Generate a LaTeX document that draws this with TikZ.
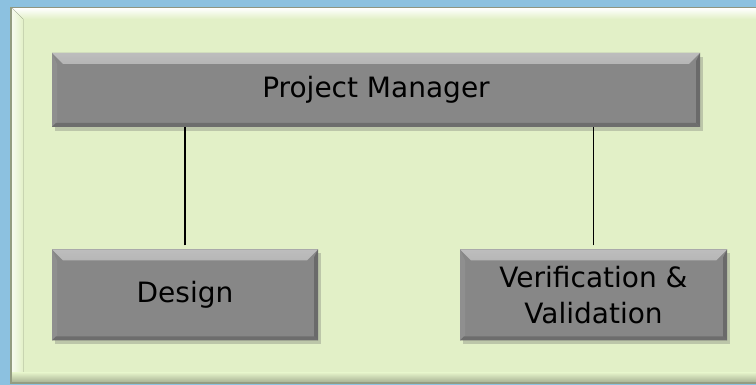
\documentclass[tikz,border=0pt]{standalone}
\usepackage{fontspec}
\setmainfont{DejaVu Sans}
\usetikzlibrary{shadows}

\definecolor{skyblue}{HTML}{8CC1E0}
\definecolor{panelgreen}{HTML}{E2F0C7}
\definecolor{boxgray}{HTML}{878787}
\definecolor{bevellight}{HTML}{BDBDBD}
\definecolor{beveldark}{HTML}{6A6A6A}

\tikzset{
  tier/.style={fill=boxgray, inner sep=0pt, align=center,
    minimum height=#1, font=\fontsize{28}{36}\selectfont,
    drop shadow={shadow xshift=3pt, shadow yshift=-4pt, opacity=0.3, fill=black!60},
    path picture={
      % top bevel
      \fill[top color=bevellight, bottom color=boxgray]
        (path picture bounding box.north west) -- (path picture bounding box.north east)
        -- ([xshift=-11pt,yshift=-11pt]path picture bounding box.north east)
        -- ([xshift=11pt,yshift=-11pt]path picture bounding box.north west) -- cycle;
      % left bevel
      \fill[boxgray!93!white]
        (path picture bounding box.north west)
        -- ([xshift=5pt,yshift=-11pt]path picture bounding box.north west)
        -- ([xshift=5pt,yshift=4pt]path picture bounding box.south west)
        -- (path picture bounding box.south west) -- cycle;
      % right and bottom edges
      \fill[beveldark]
        ([xshift=-4pt,yshift=-8pt]path picture bounding box.north east) -- (path picture bounding box.north east)
        -- (path picture bounding box.south east) -- ([xshift=-4pt,yshift=4pt]path picture bounding box.south east) -- cycle;
      \fill[beveldark!90!boxgray]
        (path picture bounding box.south west) -- (path picture bounding box.south east)
        -- ([xshift=-4pt,yshift=4pt]path picture bounding box.south east)
        -- ([xshift=4pt,yshift=4pt]path picture bounding box.south west) -- cycle;
    }},
  link/.style={line width=1.6pt, black}
}

\begin{document}
\begin{tikzpicture}[x=1pt, y=1pt]
  \useasboundingbox (0,0) rectangle (756,385);

  % backdrop and panel
  \fill[skyblue] (0,0) rectangle (756,385);
  \fill[black!35!panelgreen] (10,1) rectangle (760,378);
  \fill[panelgreen] (12,3) rectangle (760,377);
  \fill[top color=white, bottom color=panelgreen] (12,377) -- (760,377) -- (760,366) -- (23,366) -- cycle;
  \fill[left color=white!70!panelgreen, right color=panelgreen] (12,377) -- (23,366) -- (23,12) -- (12,3) -- cycle;
  \fill[top color=panelgreen, bottom color=black!25!panelgreen] (12,12) -- (760,12) -- (760,3) -- (12,3) -- cycle;

  % boxes
  \node[tier=74pt, minimum width=648pt] (pm) at (376,295) {Project Manager};
  \node[tier=91pt, minimum width=266pt] (design) at (185,90) {Design};
  \node[tier=91pt, minimum width=267pt] (vv) at (593.5,90) {Verification \&\\Validation};

  % links
  \draw[link] (design.north) ++(0,4) coordinate (dtop) -- (dtop |- pm.south);
  \draw[link] (vv.north) ++(0,4) coordinate (vtop) -- (vtop |- pm.south);

\end{tikzpicture}
\end{document}
